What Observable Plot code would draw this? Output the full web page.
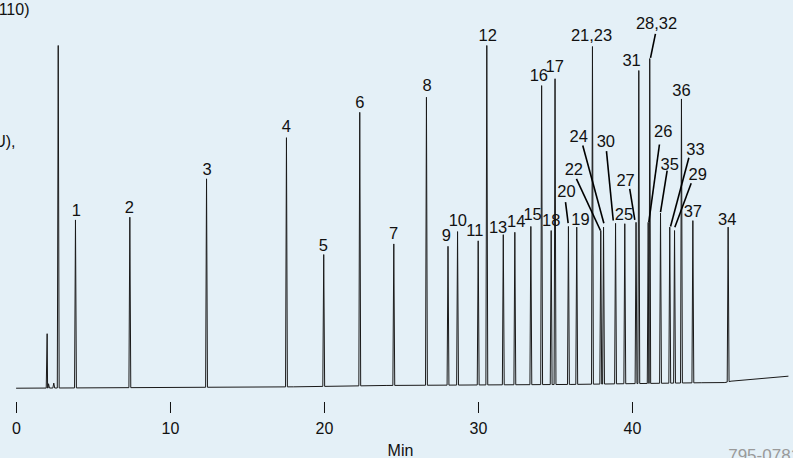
<!DOCTYPE html>
<html><head><meta charset="utf-8">
<script src="https://cdn.jsdelivr.net/npm/d3@7"></script>
<script src="https://cdn.jsdelivr.net/npm/@observablehq/plot@0.6"></script>
<style>
html,body{margin:0;padding:0;background:#e4f0f7;}
#chart{width:793px;height:458px;overflow:hidden;}
</style></head><body><div id="chart"></div>
<script>
// Peaks: retention time (min) and signal (arbitrary units, baseline = 0)
const peakName = ["", "", "", "solvent", "1", "2", "3", "4", "5", "6", "7", "8", "9", "10", "11", "12", "13", "14", "15", "16", "18", "17", "20", "19", "21,23", "22", "24", "30", "25", "27", "31", "26", "28,32", "35", "33", "29", "36", "37", "34"];
const peakTime = [1.99, 2.08, 2.42, 2.71, 3.83, 7.36, 12.34, 17.53, 19.95, 22.29, 24.50, 26.62, 28.02, 28.64, 29.98, 30.54, 31.61, 32.36, 33.40, 34.10, 34.72, 34.97, 35.84, 36.38, 37.40, 37.94, 38.12, 38.90, 39.50, 40.23, 40.41, 41.02, 41.12, 41.82, 42.42, 42.73, 43.18, 43.92, 46.21];
const peakSignal = [15.9, 1.3, 1.5, 100.0, 49.1, 49.9, 61.1, 73.1, 39.0, 80.5, 42.1, 84.9, 41.4, 45.7, 43.0, 100.0, 44.8, 45.5, 47.2, 88.3, 46.0, 90.3, 47.2, 47.0, 99.7, 46.0, 47.0, 48.1, 48.0, 48.4, 92.7, 48.4, 96.2, 51.1, 47.0, 46.0, 84.4, 48.9, 47.0];

// Baseline drift
const baseTime = [0, 18, 24, 36, 44.5, 46.0, 46.4, 50.1];
const baseSignal = [0, 0.4, 0.8, 1.1, 1.6, 1.65, 2.05, 3.5];

// Peak labels (placed in data units)
const labelName = ["1", "2", "3", "4", "5", "6", "7", "8", "9", "10", "11", "12", "13", "14", "15", "16", "17", "18", "19", "21,23", "25", "31", "36", "37", "34", "20", "22", "24", "30", "27", "26", "35", "33", "29", "28,32"];
const labelTime = [3.88, 7.32, 12.38, 17.53, 19.92, 22.29, 24.48, 26.67, 27.92, 28.66, 29.76, 30.60, 31.27, 32.45, 33.51, 33.92, 34.95, 34.72, 36.62, 37.34, 39.44, 39.94, 43.18, 43.92, 46.15, 35.71, 36.19, 36.51, 38.27, 39.55, 41.99, 42.42, 44.09, 44.24, 41.56];
const labelSignal = [51.85, 52.52, 63.73, 76.16, 41.64, 83.16, 45.0, 88.33, 44.56, 48.93, 46.02, 102.9, 46.89, 48.44, 50.54, 91.25, 93.67, 48.79, 49.23, 102.9, 50.54, 95.62, 86.87, 51.36, 49.14, 57.40, 63.73, 73.24, 71.78, 60.61, 74.91, 65.28, 69.65, 62.27, 106.5];

// Leader lines for crowded labels
const leaderName = ["20", "22", "24", "30", "27", "26", "35", "33", "29", "28,32"];
const leaderFromTime = [35.65, 36.36, 36.77, 38.31, 39.82, 41.75, 42.25, 43.66, 43.81, 41.49];
const leaderFromSignal = [54.27, 61.10, 70.82, 69.16, 58.19, 71.11, 63.52, 67.23, 59.82, 103.4];
const leaderToTime = [35.82, 37.92, 38.14, 38.75, 40.15, 41.06, 41.82, 42.47, 42.75, 41.17];
const leaderToSignal = [48.15, 46.02, 48.15, 48.93, 49.14, 48.44, 51.36, 47.18, 46.98, 96.41];

const xTicks = [0, 10, 20, 30, 40];

// Build trace: baseline with narrow peaks
const base = d3.scaleLinear(baseTime, baseSignal).clamp(true);
const hw = 0.06;
const trace = [];
baseTime.forEach((t, i) => trace.push({t, v: baseSignal[i]}));
peakTime.forEach((t, i) => {
  trace.push({t: t - hw, v: base(t - hw)}, {t, v: peakSignal[i]}, {t: t + hw, v: base(t + hw)});
});
trace.sort((a, b) => a.t - b.t);

const labels = labelName.map((n, i) => ({n, t: labelTime[i], v: labelSignal[i]}));
const leaders = leaderName.map((n, i) => ({n, x1: leaderFromTime[i], y1: leaderFromSignal[i], x2: leaderToTime[i], y2: leaderToSignal[i]}));

const chart = Plot.plot({
  width: 793,
  height: 458,
  marginLeft: 16,
  marginRight: 0,
  marginTop: 0,
  marginBottom: 56,
  style: {background: "transparent", fontFamily: "'Liberation Sans', Arial, sans-serif", fontSize: "16px", color: "#111", overflow: "visible"},
  x: {domain: [0, 50.455], range: [16, 793]},
  y: {domain: [-4.17, 113.13], range: [402, 0], axis: null},
  marks: [
    Plot.line(trace, {x: "t", y: "v", stroke: "#1a1a1a", strokeWidth: 1, curve: "linear"}),
    Plot.link(leaders, {x1: "x1", y1: "y1", x2: "x2", y2: "y2", stroke: "#000", strokeWidth: 1.6}),
    Plot.text(labels, {x: "t", y: "v", text: "n", fontSize: 16.5, fill: "#111", textAnchor: "middle", lineAnchor: "middle"}),
    Plot.axisX({ticks: xTicks, tickSize: 11, tickPadding: 9, label: null, fontSize: 16, stroke: "#111"}),
    Plot.text(["Min"], {frameAnchor: "bottom", text: d => d, lineAnchor: "middle", dy: 48, dx: -4.5, fontSize: 16, fill: "#111"}),
    Plot.text(["110)"], {frameAnchor: "top-left", text: d => d, textAnchor: "end", lineAnchor: "middle", dx: 13, dy: 9, fontSize: 16, fill: "#111"}),
    Plot.text(["U),"], {frameAnchor: "top-left", text: d => d, textAnchor: "end", lineAnchor: "middle", dx: -1, dy: 141, fontSize: 16, fill: "#111"}),
    Plot.text(["795-0781"], {frameAnchor: "bottom-right", text: d => d, textAnchor: "start", lineAnchor: "middle", dx: -65.3, dy: 53, fontSize: 17, fill: "#9a9a9a"})
  ]
});
document.getElementById("chart").appendChild(chart);
</script></body></html>
